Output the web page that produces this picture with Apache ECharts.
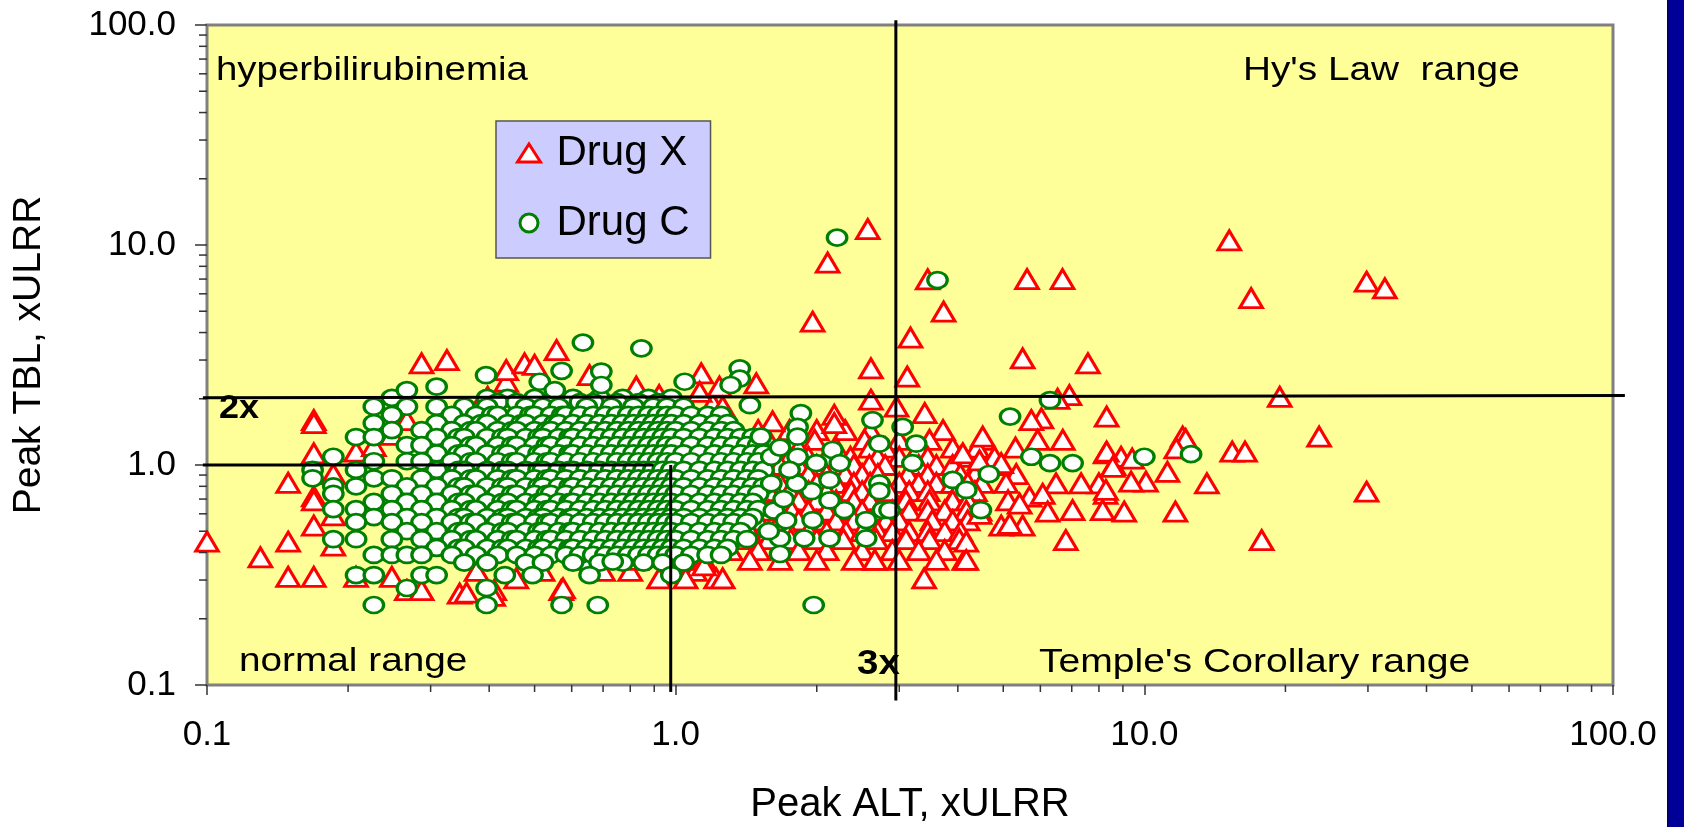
<!DOCTYPE html>
<html>
<head>
<meta charset="utf-8">
<script src="https://cdn.jsdelivr.net/npm/echarts@6/dist/echarts.min.js"></script>
<style>
html,body{margin:0;padding:0;background:#fff;}
#chart{width:1684px;height:827px;}
</style>
</head>
<body>
<div id="chart"></div>
<script>
// minor tick values (both axes, log decades)
var minorTicks = [0.2,0.3,0.4,0.5,0.6,0.7,0.8,0.9,2,3,4,5,6,7,8,9,20,30,40,50,60,70,80,90];
// reference lines: [x1, y1, x2, y2]
var refLines = [[0.098,2.02,106,2.07],[2.95,105,2.95,0.085],[0.098,1,0.897,1],[0.976,1,0.976,0.093]];

// Drug C, rows of [TBL, ALT, ALT, ...]
var drugCRows = [
	[2.02, 0.248,0.396,0.438,0.5,0.604,0.688,0.771,0.875,0.979],
	[1.93, 0.417,0.458,0.542,0.625,0.667,0.75,0.833,0.917],
	[1.84, 0.227,0.267,0.309,0.354,0.396,0.479,0.521,0.563,0.646,0.729,0.813,0.896,0.958,1.04],
	[1.69, 0.248,0.333,0.375,0.406,0.417,0.458,0.49,0.5,0.542,0.573,0.583,0.625,0.667,0.708,0.75,0.792,0.833,0.875,0.917,0.958,1.0,1.08,1.17,1.25],
	[1.55, 0.227,0.309,0.354,0.385,0.396,0.438,0.469,0.479,0.521,0.552,0.563,0.604,0.646,0.688,0.729,0.771,0.813,0.854,0.896,0.938,0.979,1.04,1.125,1.21,1.29],
	[1.44, 0.248,0.287,0.333,0.365,0.375,0.417,0.448,0.458,0.5,0.531,0.542,0.583,0.625,0.667,0.708,0.75,0.792,0.833,0.875,0.917,0.958,1.0,1.08,1.17,1.25,1.33],
	[1.34, 0.208,0.227,0.309,0.344,0.354,0.396,0.427,0.438,0.479,0.51,0.521,0.563,0.594,0.604,0.646,0.688,0.729,0.771,0.813,0.854,0.896,0.938,0.979,1.04,1.125,1.21,1.29,1.375,1.46],
	[1.23, 0.267,0.287,0.333,0.365,0.375,0.417,0.448,0.458,0.5,0.531,0.542,0.583,0.625,0.667,0.708,0.75,0.792,0.833,0.875,0.917,0.958,1.0,1.08,1.17,1.25,1.33,1.42,1.5],
	[1.13, 0.309,0.344,0.354,0.396,0.427,0.438,0.479,0.51,0.521,0.563,0.594,0.604,0.646,0.688,0.729,0.771,0.813,0.854,0.896,0.938,0.979,1.04,1.125,1.21,1.29,1.375,1.46,1.54],
	[1.04, 0.227,0.267,0.287,0.333,0.365,0.375,0.417,0.448,0.458,0.5,0.531,0.542,0.583,0.625,0.667,0.708,0.75,0.792,0.833,0.875,0.917,0.958,1.0,1.08,1.17,1.25,1.33,1.42,1.5],
	[0.95, 0.168,0.208,0.309,0.344,0.354,0.396,0.427,0.438,0.479,0.51,0.521,0.563,0.594,0.604,0.646,0.688,0.729,0.771,0.813,0.854,0.896,0.938,0.979,1.04,1.125,1.21,1.29,1.375,1.46,1.54],
	[0.87, 0.168,0.227,0.248,0.287,0.333,0.365,0.375,0.417,0.448,0.458,0.5,0.531,0.542,0.583,0.625,0.667,0.708,0.75,0.792,0.833,0.875,0.917,0.958,1.0,1.08,1.17,1.25,1.33,1.42,1.5],
	[0.80, 0.186,0.208,0.267,0.309,0.344,0.354,0.396,0.427,0.438,0.479,0.51,0.521,0.563,0.594,0.604,0.646,0.688,0.729,0.771,0.813,0.854,0.896,0.938,0.979,1.04,1.125,1.21,1.29,1.375,1.46,1.54],
	[0.74, 0.186,0.248,0.287,0.333,0.365,0.375,0.417,0.448,0.458,0.5,0.531,0.542,0.583,0.625,0.667,0.708,0.75,0.792,0.833,0.875,0.917,0.958,1.0,1.08,1.17,1.25,1.33,1.42,1.5],
	[0.68, 0.227,0.267,0.309,0.344,0.354,0.396,0.427,0.438,0.479,0.51,0.521,0.563,0.594,0.604,0.646,0.688,0.729,0.771,0.813,0.854,0.896,0.938,0.979,1.04,1.125,1.21,1.29,1.375,1.46],
	[0.63, 0.186,0.208,0.248,0.287,0.333,0.365,0.375,0.417,0.448,0.458,0.5,0.531,0.542,0.583,0.625,0.667,0.708,0.75,0.792,0.833,0.875,0.917,0.958,1.0,1.08,1.17,1.25,1.33,1.42,1.5],
	[0.58, 0.227,0.267,0.309,0.344,0.354,0.396,0.427,0.438,0.479,0.51,0.521,0.563,0.594,0.604,0.646,0.688,0.729,0.771,0.813,0.854,0.896,0.938,0.979,1.04,1.125,1.21,1.29,1.375,1.46],
	[0.55, 0.208,0.248,0.287,0.333,0.365,0.375,0.417,0.448,0.458,0.5,0.531,0.542,0.583,0.625,0.667,0.708,0.75,0.792,0.833,0.875,0.917,0.958,1.0,1.08,1.17,1.25,1.33,1.42],
	[0.50, 0.267,0.309,0.344,0.354,0.396,0.427,0.438,0.479,0.51,0.521,0.563,0.594,0.604,0.646,0.688,0.729,0.771,0.813,0.854,0.896,0.938,0.979,1.04,1.125,1.21,1.29,1.375],
	[0.46, 0.186,0.208,0.248,0.287,0.333,0.365,0.375,0.417,0.448,0.458,0.5,0.531,0.542,0.583,0.625,0.667,0.708,0.75,0.792,0.833,0.875,0.917,0.958,1.0,1.08,1.17,1.25,1.33,1.42],
	[0.42, 0.309,0.344,0.354,0.396,0.427,0.438,0.479,0.51,0.521,0.563,0.594,0.604,0.646,0.688,0.729,0.771,0.813,0.854,0.896,0.938,0.979,1.04,1.125,1.21,1.29],
	[0.39, 0.227,0.248,0.267,0.287,0.333,0.375,0.417,0.458,0.5,0.542,0.583,0.625,0.667,0.708,0.75,0.792,0.833,0.875,0.917,0.958,1.0,1.08,1.17,1.25],
	[0.36, 0.354,0.396,0.479,0.521,0.604,0.688,0.771,0.854,0.938,1.04],
	[0.316, 0.208,0.227,0.287,0.309,0.432,0.495,0.655,0.979],
	[0.276, 0.267,0.395],
	[0.231, 0.227,0.395,0.571,0.682]
];
// Drug C, single points [ALT, TBL]
var drugCPoints = [
	[0.634,3.6],[0.845,3.39],[0.571,2.68],[0.694,2.66],[0.394,2.56],[0.513,2.39],[1.045,2.39],[0.694,2.31],
	[0.309,2.27],[0.267,2.19],[0.552,2.19],[1.37,2.75],[1.37,2.47],[1.31,2.31],[0.186,1.09],[0.734,0.364],
	[2.21,10.8],[3.62,6.93],[6.29,1.97],[5.17,1.66],[1.44,1.87],[1.85,1.72],[1.82,1.49],[1.82,1.345],
	[1.52,1.345],[2.16,1.17],[2.63,1.6],[2.72,1.25],[3.05,1.49],[3.26,1.25],[3.2,1.02],[2.24,1.02],
	[1.995,1.02],[1.82,1.09],[1.6,1.09],[2.13,0.855],[2.72,0.825],[2.72,0.76],[3.9,0.855],[4.17,0.77],
	[2.77,0.624],[2.86,0.624],[2.29,0.624],[2.13,0.69],[1.95,0.76],[1.81,0.825],[1.6,0.825],[1.96,0.562],
	[2.55,0.562],[2.55,0.464],[2.13,0.464],[1.88,0.464],[1.67,0.464],[1.67,0.394],[1.97,0.231],[5.74,1.09],
	[6.29,1.02],[7.03,1.02],[4.66,0.91],[4.48,0.624],[10.0,1.09],[12.58,1.12],[1.67,1.2],[1.75,0.95],
	[1.62,0.62],[1.72,0.56],[1.58,0.5],[1.7,0.7]
];

// Drug X, rows of [TBL, ALT, ALT, ...]
var drugXRows = [
	[1.6, 0.35,0.45,0.6,0.75,0.9,1.05],
	[1.2, 0.3,0.4,0.55,0.7,0.85,1.0,1.15],
	[0.9, 0.3,0.42,0.55,0.7,0.85,1.0,1.15],
	[0.6, 0.3,0.42,0.55,0.7,0.85,1.0,1.15],
	[0.45, 0.35,0.48,0.62,0.78,0.95,1.1],
	[0.33, 0.376,0.52,0.7,0.8,1.1],
	[1.44, 1.25,1.5,1.75,2.0,2.3,2.6,3.72],
	[1.30, 1.31,1.58,1.98,2.53,3.0,3.48,4.52],
	[1.20, 1.375,1.67,1.83,2.2,2.6,2.8,3.3,3.9,4.4,5.31],
	[1.09, 1.31,1.44,1.75,1.92,2.1,2.36,2.7,3.0,3.45,4.05,4.79],
	[1.0, 1.25,1.5,1.67,1.83,2.0,2.2,2.4,2.59,2.8,3.3,3.6,3.9,4.45,4.95],
	[0.91, 1.31,1.44,1.58,1.75,1.92,2.1,2.3,2.5,2.7,3.13,3.45,4.05,4.35,5.33],
	[0.83, 1.25,1.375,1.5,1.67,1.83,2.0,2.2,2.4,2.6,3.0,3.3,3.6,3.9,4.2,4.5,5.07],
	[0.76, 1.31,1.44,1.58,1.75,1.92,2.1,2.37,2.5,2.85,3.15,3.45,3.99,4.35],
	[0.69, 1.25,1.375,1.5,1.67,1.83,2.0,2.2,2.4,2.6,3.1,3.48,3.9,4.2,5.12],
	[0.62, 1.31,1.44,1.58,1.77,1.92,2.1,2.33,2.5,2.7,2.9,3.15,3.45,3.75,4.17,4.45],
	[0.56, 1.25,1.375,1.5,1.67,1.83,2.0,2.2,2.4,2.6,2.81,3.0,3.53,3.9,4.2],
	[0.50, 1.31,1.44,1.58,1.75,1.92,2.1,2.31,2.5,2.7,2.9,3.15,3.45,3.75,4.05],
	[0.46, 1.26,1.375,1.58,1.76,2.0,2.28,2.68,3.1,3.48,4.03],
	[0.41, 1.31,1.5,1.83,2.1,2.5,2.9,3.3,3.75],
	[0.37, 0.634,0.824,1.02,1.15,1.44,1.67,2.0,2.4,2.66,3.0,3.6,4.13],
	[0.305, 0.457,0.922,1.05,1.22,1.26,3.39]
];
// Drug X, single points [ALT, TBL]
var drugXPoints = [
	[0.1,0.448],[0.13,0.38],[0.149,0.31],[0.169,0.31],[0.149,0.448],[0.149,0.83],[0.169,1.6],[0.169,1.55],
	[0.169,1.13],[0.169,0.72],[0.169,0.69],[0.169,0.53],[0.186,0.91],[0.186,0.59],[0.186,0.43],[0.208,1.15],
	[0.227,1.22],[0.248,1.37],[0.267,1.6],[0.208,0.31],[0.248,0.31],[0.267,0.27],[0.287,0.27],[0.346,0.26],
	[0.41,0.27],[0.57,0.27],[0.287,2.9],[0.325,3.0],[0.358,0.263],[0.408,0.254],[0.575,0.275],[1.15,0.35],
	[0.397,2.04],[0.376,1.78],[0.363,1.66],[0.922,2.08],[1.2,1.9],[0.435,2.39],[0.435,2.7],[0.476,2.9],
	[0.5,2.85],[0.557,3.33],[0.655,2.56],[0.824,2.27],[1.134,2.61],[1.125,2.15],[1.486,2.35],[1.24,2.27],
	[1.26,1.84],[1.61,1.58],[2.18,1.69],[2.18,1.55],
	[2.57,11.8],[2.11,8.31],[1.96,4.48],[3.45,6.98],[5.62,7.0],[6.69,7.0],[3.73,4.98],[3.17,3.79],
	[5.5,3.05],[7.58,2.9],[2.61,2.75],[3.12,2.52],[6.92,2.08],[2.61,1.98],[2.96,1.84],[3.4,1.72],
	[6.53,2.0],[6.03,1.63],[5.74,1.6],[8.31,1.66],
	[4.52,1.345],[5.92,1.3],[6.7,1.3],[4.1,1.13],[4.45,1.05],[4.95,1.02],[8.27,1.13],[8.6,1.0],
	[8.92,1.09],[9.42,1.07],[8.31,1.15],[12.07,1.345],[12.25,1.31],[11.7,1.19],[15.4,1.15],[16.4,1.15],
	[23.6,1.345],[19.45,2.04],[13.6,0.825],[11.2,0.93],[10.08,0.84],[9.37,0.84],[8.0,0.825],[7.33,0.825],
	[6.48,0.825],[8.56,0.98],[5.69,0.718],[6.07,0.74],[8.27,0.74],[8.28,0.77],[5.42,0.667],[6.22,0.614],
	[7.03,0.624],[8.15,0.624],[9.06,0.614],[11.65,0.614],[4.45,0.6],[4.95,0.53],[5.5,0.53],[5.16,0.54],
	[4.17,0.448],[6.8,0.456],[29.8,0.756],[17.8,0.456],[15.18,10.5],[29.8,6.81],[32.6,6.35],[16.9,5.73],
	[4.17,0.37],[2.66,0.37]
];

function fromRows(rows) {
	var out = [];
	rows.forEach(function (r) {
		for (var i = 1; i < r.length; i++) {
			out.push([r[i], r[0]]);
		}
	});
	return out;
}

var FONT = 'Liberation Sans';
// slightly wide ring, as in the original picture
var RING = 'path://M0,10A10,10,0,1,1,20,10A10,10,0,1,1,0,10Z';
var drugXData = fromRows(drugXRows).concat(drugXPoints);
var drugCData = fromRows(drugCRows).concat(drugCPoints);

function label(text, x, y, sx, font) {
	return {
		type: 'text', x: x, y: y, scaleX: sx, z: 50,
		style: { text: text, font: font, fill: '#000', align: 'left', verticalAlign: 'middle', textAlign: 'left', textVerticalAlign: 'middle' }
	};
}

var mycharts = echarts.init(document.getElementById('chart'));
var option = {
	animation: false,
	backgroundColor: '#ffffff',
	grid: {
		left: 207, top: 25, width: 1406, height: 660,
		show: true, backgroundColor: '#FFFF99', borderColor: '#808080', borderWidth: 3,
		containLabel: false, outerBoundsMode: 'none'
	},
	legend: {
		data: [{ name: 'Drug X', icon: 'triangle' }, { name: 'Drug C', icon: RING }],
		orient: 'vertical',
		left: 496, top: 121,
		padding: [11, 21, 14, 20],
		itemGap: 28,
		itemWidth: 23, itemHeight: 18,
		selectedMode: false,
		backgroundColor: '#CCCCFF',
		borderColor: '#555555', borderWidth: 1.5,
		itemStyle: { borderWidth: 3 },
		textStyle: { fontSize: 42, fontFamily: FONT, color: '#000', padding: [0, 0, 0, 11] }
	},
	xAxis: {
		type: 'log', logBase: 10, min: 0.1, max: 100,
		axisLine: { show: false },
		axisTick: { show: true, length: 10, lineStyle: { color: '#333', width: 1.5 } },
		axisLabel: {
			margin: 33, fontSize: 35, fontFamily: FONT, color: '#000',
			formatter: function (v) { return v.toFixed(1); }
		},
		splitLine: { show: false },
		name: 'Peak ALT, xULRR', nameLocation: 'middle', nameGap: 100,
		nameTextStyle: { fontSize: 40, fontFamily: FONT, color: '#000' }
	},
	yAxis: {
		type: 'log', logBase: 10, min: 0.1, max: 100,
		axisLine: { show: false },
		axisTick: { show: true, length: 12, lineStyle: { color: '#333', width: 1.5 } },
		axisLabel: {
			margin: 31, fontSize: 35, fontFamily: FONT, color: '#000',
			formatter: function (v) { return v.toFixed(1); }
		},
		splitLine: { show: false },
		name: 'Peak TBL, xULRR', nameLocation: 'middle', nameGap: 158,
		nameTextStyle: { fontSize: 39, fontFamily: FONT, color: '#000' }
	},
	graphic: [
		{ type: 'rect', x: 1668, y: 0, z: 50, shape: { width: 16, height: 827 }, style: { fill: '#000099' } },
		{ type: 'rect', x: 1667, y: 0, z: 51, shape: { width: 1.5, height: 827 }, style: { fill: '#00004d' } },
		label('hyperbilirubinemia', 216, 71, 1.13, '34px "Liberation Sans"'),
		label("Hy's Law  range", 1243, 71, 1.14, '34px "Liberation Sans"'),
		label('normal range', 239, 662, 1.14, '34px "Liberation Sans"'),
		label("Temple's Corollary range", 1039, 663, 1.15, '34px "Liberation Sans"'),
		label('2x', 219, 409, 1.06, 'bold 34px "Liberation Sans"'),
		label('3x', 857, 664, 1.1, 'bold 35px "Liberation Sans"')
	],
	series: [{
		name: 'Drug X',
		type: 'scatter',
		symbol: 'triangle',
		symbolSize: [22.5, 19],
		z: 2,
		itemStyle: { color: '#ffffff', borderColor: '#ff0000', borderWidth: 3, opacity: 1 },
		emphasis: { disabled: true },
		data: drugXData
	}, {
		name: 'Drug C',
		type: 'scatter',
		symbol: RING,
		symbolSize: [19.5, 16],
		z: 3,
		itemStyle: { color: '#ffffff', borderColor: '#008000', borderWidth: 3, opacity: 1 },
		emphasis: { disabled: true },
		data: drugCData
	}, {
		// minor ticks on the x axis
		type: 'custom',
		silent: true,
		clip: false,
		z: 5,
		data: minorTicks.map(function (v) { return [v, 0.1]; }),
		renderItem: function (params, api) {
			var p = api.coord([api.value(0), api.value(1)]);
			return { type: 'line', shape: { x1: p[0], y1: p[1], x2: p[0], y2: p[1] + 7 }, style: { stroke: '#333', lineWidth: 1.5 } };
		}
	}, {
		// minor ticks on the y axis
		type: 'custom',
		silent: true,
		clip: false,
		z: 5,
		data: minorTicks.map(function (v) { return [0.1, v]; }),
		renderItem: function (params, api) {
			var p = api.coord([api.value(0), api.value(1)]);
			return { type: 'line', shape: { x1: p[0] - 8, y1: p[1], x2: p[0], y2: p[1] }, style: { stroke: '#333', lineWidth: 1.5 } };
		}
	}, {
		// 2x / 3x / normal range lines
		type: 'custom',
		silent: true,
		clip: false,
		z: 10,
		data: refLines,
		renderItem: function (params, api) {
			var a = api.coord([api.value(0), api.value(1)]);
			var b = api.coord([api.value(2), api.value(3)]);
			return { type: 'line', shape: { x1: a[0], y1: a[1], x2: b[0], y2: b[1] }, style: { stroke: '#000', lineWidth: 3 } };
		}
	}]
};
mycharts.setOption(option);
</script>
</body>
</html>
